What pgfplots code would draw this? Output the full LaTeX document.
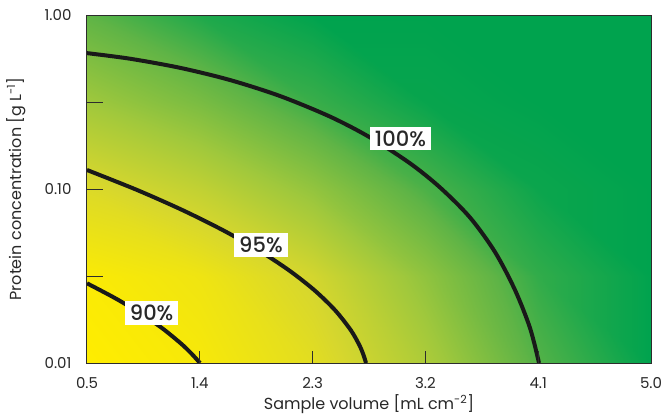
\documentclass[border=0pt]{standalone}
\usepackage{pgfplots}
\pgfplotsset{compat=1.18}
\usepackage{fontspec}
\setmainfont{Poppins}
\newfontfamily\medfont{Poppins Medium}
\definecolor{txt}{RGB}{40,40,40}
\definecolor{axc}{RGB}{45,45,45}
\begin{document}
\begin{tikzpicture}
\begin{axis}[
  scale only axis, width=564pt, height=348pt,
  xmin=0.5, xmax=5.0, ymin=0.01, ymax=1,
  ymode=log,
  axis on top,
  axis line style={axc, line width=1pt},
  tick align=inside,
  xtick={0.5,1.4,2.3,3.2,4.1,5.0},
  xticklabels={0.5,1.4,2.3,3.2,4.1,5.0},
  ytick={0.01,0.1,1},
  yticklabels={0.01,0.10,1.00},
  yminorticks=false, xminorticks=false,
  extra y ticks={0.0316,0.1,0.316},
  extra y tick labels={},
  extra tick style={major tick length=16pt},
  major tick length=12pt,
  tick style={axc, line width=1pt},
  xtick pos=bottom, ytick pos=left,
  tick label style={font=\fontsize{15}{17}\selectfont, text=txt},
  xticklabel style={yshift=-11pt},
  yticklabel style={xshift=-12pt},
  label style={font=\fontsize{16}{19}\selectfont, text=txt},
  xlabel={Sample volume [mL cm\textsuperscript{-2}]},
  ylabel={Protein concentration [g L\textsuperscript{-1}]},
  xlabel style={yshift=1pt},
  ylabel style={yshift=12pt},
  colormap={yg}{rgb255(0)=(255,237,0); rgb255(1)=(215,215,45); rgb255(2)=(160,200,60); rgb255(3)=(95,180,70); rgb255(4)=(0,163,78)},
  point meta min=0, point meta max=1,
]
\addplot[surf, shader=interp, mesh/cols=6, point meta=explicit] table[meta=c] {
x y c
0.5 0.01 0.00
1.4 0.01 0.05
2.3 0.01 0.18
3.2 0.01 0.44
4.1 0.01 0.78
5.0 0.01 1.00
0.5 0.0316 0.03
1.4 0.0316 0.10
2.3 0.0316 0.27
3.2 0.0316 0.56
4.1 0.0316 0.87
5.0 0.0316 1.00
0.5 0.1 0.22
1.4 0.1 0.35
2.3 0.1 0.55
3.2 0.1 0.80
4.1 0.1 0.97
5.0 0.1 1.00
0.5 0.316 0.50
1.4 0.316 0.65
2.3 0.316 0.85
3.2 0.316 0.98
4.1 0.316 1.00
5.0 0.316 1.00
0.5 1 0.75
1.4 1 0.92
2.3 1 1.00
3.2 1 1.00
4.1 1 1.00
5.0 1 1.00
};
% 100%
\addplot[black!90, line width=4pt, smooth, no marks] coordinates {
(0.5,0.6039) (0.8431,0.5608) (1.2420,0.4972) (1.6410,0.4230) (2.0399,0.3423) (2.4389,0.2607) (2.7580,0.1980) (3.0772,0.1405) (3.3166,0.1021) (3.5560,0.06859) (3.7554,0.04344) (3.9150,0.02627) (4.0347,0.01589) (4.1065,0.01)
};
% 95%
\addplot[black!90, line width=4pt, smooth, no marks] coordinates {
(0.5,0.1286) (0.8998,0.09870) (1.2604,0.07574) (1.5820,0.05812) (1.8652,0.04461) (2.1085,0.03423) (2.3128,0.02627) (2.4780,0.02016) (2.6040,0.01548) (2.6727,0.01269) (2.7062,0.01112) (2.7261,0.01)
};
% 90%
\addplot[black!90, line width=4pt, smooth, no marks] coordinates {
(0.5,0.02871) (0.7266,0.02354) (0.9266,0.01930) (1.1008,0.01583) (1.2476,0.01298) (1.3314,0.01137) (1.4016,0.01)
};
\node[fill=white, text=txt, font=\medfont\fontsize{21}{23}\selectfont, inner xsep=5pt, inner ysep=4pt] at (axis cs:3.001,0.195) {100\%};
\node[fill=white, text=txt, font=\medfont\fontsize{21}{23}\selectfont, inner xsep=5pt, inner ysep=4pt] at (axis cs:1.888,0.0477) {95\%};
\node[fill=white, text=txt, font=\medfont\fontsize{21}{23}\selectfont, inner xsep=5pt, inner ysep=4pt] at (axis cs:1.016,0.0195) {90\%};
\end{axis}
\path ([yshift=15pt]current axis.north west);
\path ([xshift=-87pt]current axis.south west);
\path ([xshift=15pt,yshift=-54pt]current axis.south east);
\end{tikzpicture}
\end{document}
